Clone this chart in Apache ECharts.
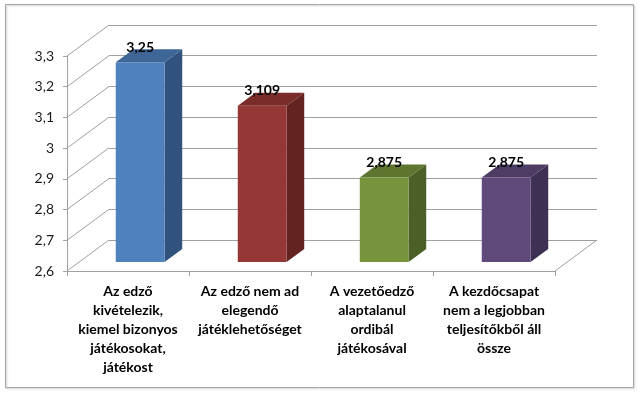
<!DOCTYPE html>
<html><head><meta charset="utf-8">
<script src="https://cdn.jsdelivr.net/npm/echarts@6/dist/echarts.min.js"></script>
<style>html,body{margin:0;padding:0;background:#fff}#c{width:640px;height:393px}</style>
</head><body><div id="c"></div>
<script>
const categories = [
  'Az edző\nkivételezik,\nkiemel bizonyos\njátékosokat,\njátékost',
  'Az edző nem ad\nelegendő\njátéklehetőséget',
  'A vezetőedző\nalaptalanul\nordibál\njátékosával',
  'A kezdőcsapat\nnem a legjobban\nteljesítőkből áll\nössze'
];
const values = [3.25, 3.109, 2.875, 2.875];
const valueLabels = ['3,25', '3,109', '2,875', '2,875'];
const yMin = 2.6, yMax = 3.3, yStep = 0.1;
const yTicks = [2.6, 2.7, 2.8, 2.9, 3.0, 3.1, 3.2, 3.3];

const frontColors = ['#4F81BD', '#953735', '#77933C', '#604A7B'];
const topColors   = ['#3E6798', '#792C2A', '#5E7530', '#4D3C64'];
const sideColors  = ['#31527D', '#622321', '#4C5F27', '#3E3052'];

const G = {left: 67, right: 85, top: 56, bottom: 122};
const DX = 42, DY = -31;           // wall depth offset
const F1 = 0.29, F2 = 0.71;        // bar front/back depth fraction
const BAR_W = 0.40;                // bar width fraction of band

const chart = echarts.init(document.getElementById('c'), null, {renderer: 'canvas'});
const fmt = v => String(Number(v.toFixed(3))).replace('.', ',');
const lineCol = '#A0A0A0';

chart.setOption({
  backgroundColor: '#fff',
  animation: false,
  graphic: [{
    type: 'rect', shape: {x: 5.5, y: 4.5, width: 628, height: 383},
    style: {fill: 'none', stroke: '#a8a8a8', lineWidth: 1, shadowColor: 'rgba(0,0,0,0.25)', shadowBlur: 2, shadowOffsetX: 1, shadowOffsetY: 1}, z: -10
  }],
  grid: [
    {left: G.left, right: G.right, top: G.top, bottom: G.bottom},
    {left: G.left + DX, right: G.right - DX, top: G.top + DY, bottom: G.bottom - DY}
  ],
  xAxis: [
    {type: 'category', gridIndex: 0, data: categories,
     axisLine: {show: true, lineStyle: {color: lineCol, width: 1}},
     axisTick: {show: true, length: 5, lineStyle: {color: lineCol}},
     axisLabel: {interval: 0, margin: 11, color: '#000', fontFamily: 'Lato', fontWeight: 'bold', fontSize: 14, lineHeight: 19, align: 'center'},
     splitLine: {show: false}},
    {type: 'category', gridIndex: 1, data: categories, show: false}
  ],
  yAxis: [
    {type: 'value', gridIndex: 0, min: yMin, max: yMax, interval: yStep,
     axisLine: {show: true, lineStyle: {color: lineCol, width: 1}},
     axisTick: {show: true, length: 4, lineStyle: {color: lineCol}},
     axisLabel: {margin: 13, color: '#1a1a1a', fontFamily: 'Lato', fontSize: 14, formatter: v => fmt(v)},
     splitLine: {show: false}},
    {type: 'value', gridIndex: 1, min: yMin, max: yMax, interval: yStep,
     axisLine: {show: false}, axisTick: {show: false}, axisLabel: {show: false},
     splitLine: {show: true, lineStyle: {color: lineCol, width: 1}}}
  ],
  series: [
    {
      type: 'custom', xAxisIndex: 0, yAxisIndex: 0, z: 1, silent: true,
      data: yTicks.map(v => [0, v]),
      renderItem: (params, api) => {
        const v = api.value(1);
        const band = api.size([1, 0])[0];
        const p = api.coord([0, v]);
        const left = p[0] - band / 2;
        const children = [{
          type: 'line', shape: {x1: left, y1: p[1], x2: left + DX, y2: p[1] + DY},
          style: {stroke: lineCol, lineWidth: 1}
        }];
        if (v === yMin) {
          const q = api.coord([categories.length - 1, v]);
          const right = q[0] + band / 2;
          children.push({
            type: 'line', shape: {x1: right, y1: q[1], x2: right + DX, y2: q[1] + DY},
            style: {stroke: lineCol, lineWidth: 1}
          });
        }
        return {type: 'group', children};
      }
    },
    {
      type: 'custom', xAxisIndex: 0, yAxisIndex: 0, z: 5, silent: true,
      data: values.map((v, i) => [i, v]),
      renderItem: (params, api) => {
        const i = api.value(0), v = api.value(1);
        const band = api.size([1, 0])[0];
        const t = api.coord([i, v]);
        const b = api.coord([i, yMin]);
        const w = band * BAR_W;
        const x0 = t[0] - w / 2 + DX * F1, x1 = x0 + w;
        const yT = t[1] + DY * F1, yB = b[1] + DY * F1;
        const ddx = DX * (F2 - F1), ddy = DY * (F2 - F1);
        return {type: 'group', children: [
          {type: 'polygon', shape: {points: [[x1, yT], [x1 + ddx, yT + ddy], [x1 + ddx, yB + ddy], [x1, yB]]},
           style: {fill: sideColors[i]}},
          {type: 'polygon', shape: {points: [[x0, yT], [x1, yT], [x1 + ddx, yT + ddy], [x0 + ddx, yT + ddy]]},
           style: {fill: topColors[i]}},
          {type: 'rect', shape: {x: x0, y: yT, width: w, height: yB - yT},
           style: {fill: frontColors[i]}},
          {type: 'text', style: {text: valueLabels[i], x: (x0 + x1) / 2, y: yT - 15, align: 'center', verticalAlign: 'middle',
            font: 'bold 14px Lato', fill: '#000'}}
        ]};
      }
    }
  ]
});
</script>
</body></html>
